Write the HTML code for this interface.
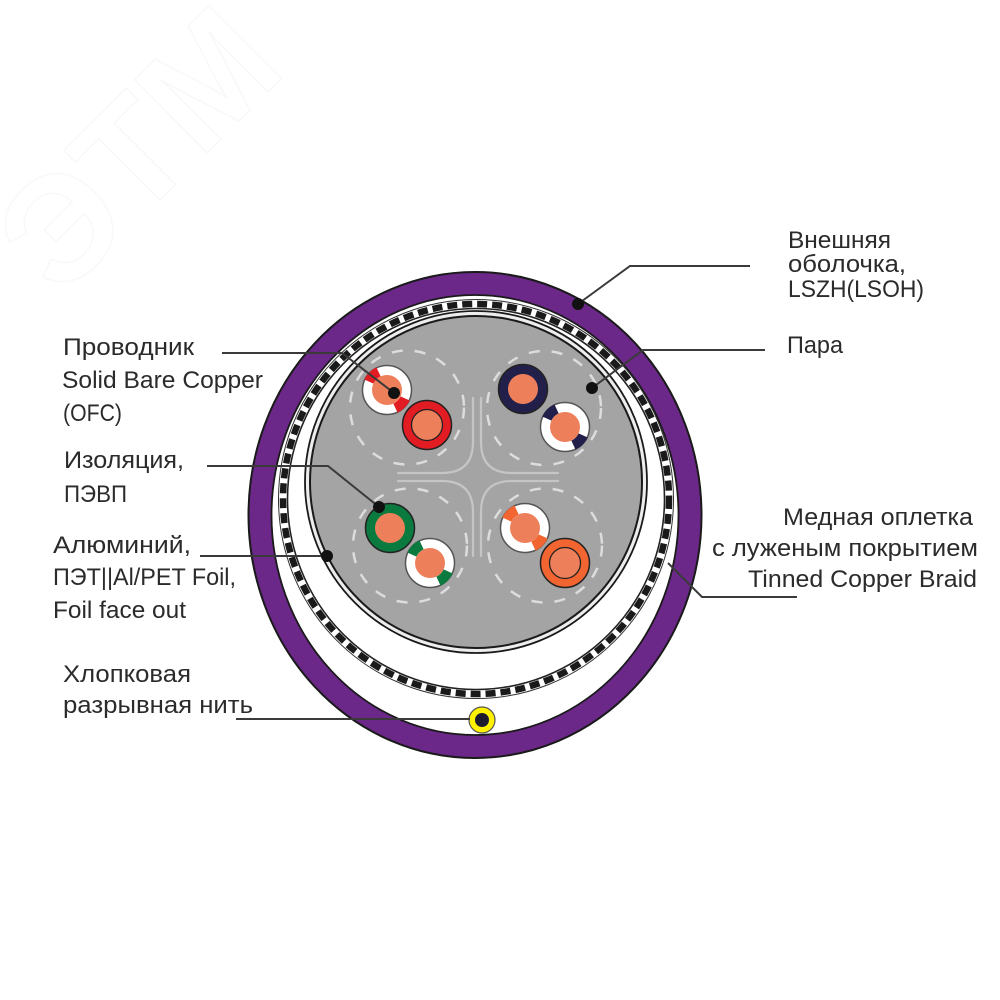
<!DOCTYPE html>
<html>
<head>
<meta charset="utf-8">
<style>
  html,body{margin:0;padding:0;background:#fff;}
  svg{display:block;}
  .t{font-family:"Liberation Sans","DejaVu Sans",sans-serif;font-size:24px;fill:#2b2b2b;}
</style>
</head>
<body>
<svg width="1000" height="1000" viewBox="0 0 1000 1000" xmlns="http://www.w3.org/2000/svg">
  <rect width="1000" height="1000" fill="#ffffff"/>

  <!-- very faint watermark -->
  <text x="0" y="0" transform="translate(60,300) rotate(-45)" font-family="Liberation Sans, sans-serif" font-size="150" font-weight="bold" fill="none" stroke="#f8f8f8" stroke-width="1.5">ЭТМ</text>

  <!-- outer purple jacket -->
  <ellipse cx="475" cy="515" rx="215" ry="231.5" fill="#ffffff" stroke="#6b2889" stroke-width="23"/>
  <ellipse cx="475" cy="515" rx="226.5" ry="243" fill="none" stroke="#1a1a1a" stroke-width="2"/>
  <ellipse cx="475" cy="515" rx="203.5" ry="220" fill="none" stroke="#1a1a1a" stroke-width="1.8"/>

  <!-- braid -->
  <ellipse cx="476" cy="499" rx="197.5" ry="199.5" fill="none" stroke="#333" stroke-width="1"/>
  <ellipse cx="476" cy="499" rx="193" ry="195" fill="none" stroke="#1a1a1a" stroke-width="6.5" stroke-dasharray="10 5"/>
  <ellipse cx="476" cy="499" rx="188.5" ry="190.5" fill="none" stroke="#222" stroke-width="1.6"/>

  <!-- core with foil -->
  <circle cx="476" cy="482" r="171" fill="#ededed" stroke="#1a1a1a" stroke-width="1.8"/>
  <circle cx="476" cy="482" r="166" fill="#a4a4a4" stroke="#1a1a1a" stroke-width="2"/>

  <!-- dashed pair circles -->
  <g fill="none" stroke="#dcdcdc" stroke-width="2.5" stroke-dasharray="11 12">
    <circle cx="407" cy="407.5" r="57"/>
    <circle cx="544" cy="408" r="57"/>
    <circle cx="410" cy="545.5" r="57"/>
    <circle cx="545" cy="545.5" r="57"/>
  </g>

  <!-- central separator star -->
  <g fill="none" stroke="#cbcbcb" stroke-width="2.2" stroke-linecap="round" opacity="0.85">
    <path d="M473 398 L473 442 Q473 473 442 473 L398 473"/>
    <path d="M481 398 L481 442 Q481 473 512 473 L558 473"/>
    <path d="M473 556 L473 512 Q473 481 442 481 L398 481"/>
    <path d="M481 556 L481 512 Q481 481 512 481 L558 481"/>
  </g>

  <!-- Pair 1: white-red + red -->
  <g transform="translate(387,390)">
    <circle r="24.5" fill="#ffffff" stroke="#555" stroke-width="1.5"/>
    <path d="M-18.13 -8.45 A20 20 0 0 1 -8.45 -18.13" fill="none" stroke="#e21c23" stroke-width="10"/>
    <path d="M18.13 8.45 A20 20 0 0 1 8.45 18.13" fill="none" stroke="#e21c23" stroke-width="10"/>
    <circle r="15" fill="#ee7f5b"/>
  </g>
  <g transform="translate(427,425)">
    <circle r="24.5" fill="#e21c23" stroke="#222" stroke-width="1.5"/>
    <circle r="15.5" fill="#ee7f5b" stroke="#222" stroke-width="1.3"/>
  </g>

  <!-- Pair 2: blue + white-blue -->
  <g transform="translate(523,389)">
    <circle r="24.5" fill="#221f4a" stroke="#222" stroke-width="1.5"/>
    <circle r="15" fill="#ee7f5b"/>
  </g>
  <g transform="translate(565,427)">
    <circle r="24.5" fill="#ffffff" stroke="#555" stroke-width="1.5"/>
    <path d="M-18.13 -8.45 A20 20 0 0 1 -8.45 -18.13" fill="none" stroke="#221f4a" stroke-width="10"/>
    <path d="M18.13 8.45 A20 20 0 0 1 8.45 18.13" fill="none" stroke="#221f4a" stroke-width="10"/>
    <circle r="15" fill="#ee7f5b"/>
  </g>

  <!-- Pair 3: green + white-green -->
  <g transform="translate(390,528)">
    <circle r="24.5" fill="#0b7a3e" stroke="#222" stroke-width="1.5"/>
    <circle r="15" fill="#ee7f5b"/>
  </g>
  <g transform="translate(430,563)">
    <circle r="24.5" fill="#ffffff" stroke="#555" stroke-width="1.5"/>
    <path d="M-18.13 -8.45 A20 20 0 0 1 -8.45 -18.13" fill="none" stroke="#0b7a3e" stroke-width="10"/>
    <path d="M18.13 8.45 A20 20 0 0 1 8.45 18.13" fill="none" stroke="#0b7a3e" stroke-width="10"/>
    <circle r="15" fill="#ee7f5b"/>
  </g>

  <!-- Pair 4: white-orange + orange -->
  <g transform="translate(525,528)">
    <circle r="24.5" fill="#ffffff" stroke="#555" stroke-width="1.5"/>
    <path d="M-18.13 -8.45 A20 20 0 0 1 -8.45 -18.13" fill="none" stroke="#f26430" stroke-width="10"/>
    <path d="M18.13 8.45 A20 20 0 0 1 8.45 18.13" fill="none" stroke="#f26430" stroke-width="10"/>
    <circle r="15" fill="#ee7f5b"/>
  </g>
  <g transform="translate(565,563)">
    <circle r="24.5" fill="#f26430" stroke="#222" stroke-width="1.5"/>
    <circle r="15.5" fill="#ee7f5b" stroke="#222" stroke-width="1.3"/>
  </g>

  <!-- rip cord -->
  <circle cx="482" cy="720" r="13" fill="#fff200" stroke="#555" stroke-width="1.2"/>
  <circle cx="482" cy="720" r="7" fill="#1c1c2e"/>

  <!-- leader lines -->
  <g fill="none" stroke="#3a3a3a" stroke-width="2">
    <polyline points="750,266 630,266 578,304"/>
    <polyline points="765,350 643,350 592,388"/>
    <polyline points="222,353 342,353 394,393"/>
    <polyline points="207,466 328,466 379,507"/>
    <polyline points="200,556 327,556"/>
    <polyline points="236,719 470,719"/>
    <polyline points="797,597 702,597 668,563"/>
  </g>
  <g fill="#111">
    <circle cx="578" cy="304" r="6"/>
    <circle cx="592" cy="388" r="6"/>
    <circle cx="394" cy="393" r="6"/>
    <circle cx="379" cy="507" r="6"/>
    <circle cx="327" cy="556" r="6"/>
  </g>

  <!-- labels: right top -->
  <text class="t" x="788" y="248" textLength="103" lengthAdjust="spacingAndGlyphs">Внешняя</text>
  <text class="t" x="788" y="272" textLength="118" lengthAdjust="spacingAndGlyphs">оболочка,</text>
  <text class="t" x="788" y="297" textLength="136" lengthAdjust="spacingAndGlyphs">LSZH(LSOH)</text>
  <text class="t" x="787" y="353" textLength="56" lengthAdjust="spacingAndGlyphs">Пара</text>

  <!-- labels: left -->
  <text class="t" x="63" y="355" textLength="131" lengthAdjust="spacingAndGlyphs">Проводник</text>
  <text class="t" x="62" y="388" textLength="201" lengthAdjust="spacingAndGlyphs">Solid Bare Copper</text>
  <text class="t" x="63" y="421" textLength="59" lengthAdjust="spacingAndGlyphs">(OFC)</text>

  <text class="t" x="64" y="468" textLength="120" lengthAdjust="spacingAndGlyphs">Изоляция,</text>
  <text class="t" x="64" y="502" textLength="63" lengthAdjust="spacingAndGlyphs">ПЭВП</text>

  <text class="t" x="53" y="553" textLength="138" lengthAdjust="spacingAndGlyphs">Алюминий,</text>
  <text class="t" x="53" y="585" textLength="183" lengthAdjust="spacingAndGlyphs">ПЭТ||Al/PET Foil,</text>
  <text class="t" x="53" y="618" textLength="133" lengthAdjust="spacingAndGlyphs">Foil face out</text>

  <text class="t" x="63" y="682" textLength="128" lengthAdjust="spacingAndGlyphs">Хлопковая</text>
  <text class="t" x="63" y="713" textLength="190" lengthAdjust="spacingAndGlyphs">разрывная нить</text>

  <!-- labels: right middle -->
  <text class="t" x="783" y="525" textLength="190" lengthAdjust="spacingAndGlyphs">Медная оплетка</text>
  <text class="t" x="712" y="556" textLength="266" lengthAdjust="spacingAndGlyphs">с луженым покрытием</text>
  <text class="t" x="748" y="587" textLength="229" lengthAdjust="spacingAndGlyphs">Tinned Copper Braid</text>
</svg>
</body>
</html>
